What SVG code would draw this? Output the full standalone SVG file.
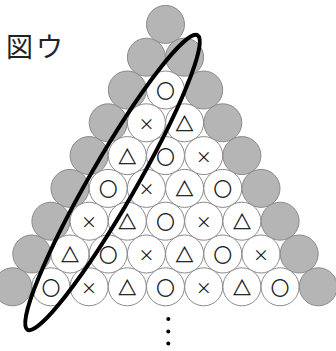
<svg xmlns="http://www.w3.org/2000/svg" width="336" height="351" viewBox="0 0 336 351">
<style>
.g{fill:#b5b5b5;stroke:#8a8a8a;stroke-width:1}
.w{fill:#ffffff;stroke:#8a8a8a;stroke-width:1}
.s{font-family:"Noto Sans CJK JP","DejaVu Sans",sans-serif;font-size:16px;fill:#111;text-anchor:middle;dominant-baseline:central}
.o{font-size:18px;stroke:#111;stroke-width:0.5}
.t{font-size:18px;stroke:#111;stroke-width:0.4}
.x{font-size:16px}
.title{font-family:"Noto Sans CJK JP",sans-serif;font-size:27px;fill:#222;letter-spacing:3px}
</style>
<rect width="336" height="351" fill="#ffffff"/>
<text class="title" x="6" y="57">図ウ</text>
<g id="nodes">
<g id="n0-0"><circle class="g" cx="165.5" cy="24.4" r="19"/></g>
<g id="n1-0"><circle class="g" cx="146.4" cy="57.2" r="19"/></g>
<g id="n1-1"><circle class="g" cx="184.6" cy="57.2" r="19"/></g>
<g id="n2-0"><circle class="g" cx="127.3" cy="90" r="19"/></g>
<g id="n2-1"><circle class="w" cx="165.5" cy="90" r="19"/><text class="s o" x="165.5" y="90">○</text></g>
<g id="n2-2"><circle class="g" cx="203.7" cy="90" r="19"/></g>
<g id="n3-0"><circle class="g" cx="108.2" cy="122.8" r="19"/></g>
<g id="n3-1"><circle class="w" cx="146.4" cy="122.8" r="19"/><text class="s x" x="146.4" y="122.8">×</text></g>
<g id="n3-2"><circle class="w" cx="184.6" cy="122.8" r="19"/><text class="s t" x="184.6" y="122.8">△</text></g>
<g id="n3-3"><circle class="g" cx="222.8" cy="122.8" r="19"/></g>
<g id="n4-0"><circle class="g" cx="89.1" cy="155.6" r="19"/></g>
<g id="n4-1"><circle class="w" cx="127.3" cy="155.6" r="19"/><text class="s t" x="127.3" y="155.6">△</text></g>
<g id="n4-2"><circle class="w" cx="165.5" cy="155.6" r="19"/><text class="s o" x="165.5" y="155.6">○</text></g>
<g id="n4-3"><circle class="w" cx="203.7" cy="155.6" r="19"/><text class="s x" x="203.7" y="155.6">×</text></g>
<g id="n4-4"><circle class="g" cx="241.9" cy="155.6" r="19"/></g>
<g id="n5-0"><circle class="g" cx="70" cy="188.4" r="19"/></g>
<g id="n5-1"><circle class="w" cx="108.2" cy="188.4" r="19"/><text class="s o" x="108.2" y="188.4">○</text></g>
<g id="n5-2"><circle class="w" cx="146.4" cy="188.4" r="19"/><text class="s x" x="146.4" y="188.4">×</text></g>
<g id="n5-3"><circle class="w" cx="184.6" cy="188.4" r="19"/><text class="s t" x="184.6" y="188.4">△</text></g>
<g id="n5-4"><circle class="w" cx="222.8" cy="188.4" r="19"/><text class="s o" x="222.8" y="188.4">○</text></g>
<g id="n5-5"><circle class="g" cx="261" cy="188.4" r="19"/></g>
<g id="n6-0"><circle class="g" cx="50.9" cy="221.2" r="19"/></g>
<g id="n6-1"><circle class="w" cx="89.1" cy="221.2" r="19"/><text class="s x" x="89.1" y="221.2">×</text></g>
<g id="n6-2"><circle class="w" cx="127.3" cy="221.2" r="19"/><text class="s t" x="127.3" y="221.2">△</text></g>
<g id="n6-3"><circle class="w" cx="165.5" cy="221.2" r="19"/><text class="s o" x="165.5" y="221.2">○</text></g>
<g id="n6-4"><circle class="w" cx="203.7" cy="221.2" r="19"/><text class="s x" x="203.7" y="221.2">×</text></g>
<g id="n6-5"><circle class="w" cx="241.9" cy="221.2" r="19"/><text class="s t" x="241.9" y="221.2">△</text></g>
<g id="n6-6"><circle class="g" cx="280.1" cy="221.2" r="19"/></g>
<g id="n7-0"><circle class="g" cx="31.8" cy="254" r="19"/></g>
<g id="n7-1"><circle class="w" cx="70" cy="254" r="19"/><text class="s t" x="70" y="254">△</text></g>
<g id="n7-2"><circle class="w" cx="108.2" cy="254" r="19"/><text class="s o" x="108.2" y="254">○</text></g>
<g id="n7-3"><circle class="w" cx="146.4" cy="254" r="19"/><text class="s x" x="146.4" y="254">×</text></g>
<g id="n7-4"><circle class="w" cx="184.6" cy="254" r="19"/><text class="s t" x="184.6" y="254">△</text></g>
<g id="n7-5"><circle class="w" cx="222.8" cy="254" r="19"/><text class="s o" x="222.8" y="254">○</text></g>
<g id="n7-6"><circle class="w" cx="261" cy="254" r="19"/><text class="s x" x="261" y="254">×</text></g>
<g id="n7-7"><circle class="g" cx="299.2" cy="254" r="19"/></g>
<g id="n8-0"><circle class="g" cx="12.7" cy="286.8" r="19"/></g>
<g id="n8-1"><circle class="w" cx="50.9" cy="286.8" r="19"/><text class="s o" x="50.9" y="286.8">○</text></g>
<g id="n8-2"><circle class="w" cx="89.1" cy="286.8" r="19"/><text class="s x" x="89.1" y="286.8">×</text></g>
<g id="n8-3"><circle class="w" cx="127.3" cy="286.8" r="19"/><text class="s t" x="127.3" y="286.8">△</text></g>
<g id="n8-4"><circle class="w" cx="165.5" cy="286.8" r="19"/><text class="s o" x="165.5" y="286.8">○</text></g>
<g id="n8-5"><circle class="w" cx="203.7" cy="286.8" r="19"/><text class="s x" x="203.7" y="286.8">×</text></g>
<g id="n8-6"><circle class="w" cx="241.9" cy="286.8" r="19"/><text class="s t" x="241.9" y="286.8">△</text></g>
<g id="n8-7"><circle class="w" cx="280.1" cy="286.8" r="19"/><text class="s o" x="280.1" y="286.8">○</text></g>
<g id="n8-8"><circle class="g" cx="318.3" cy="286.8" r="19"/></g>
</g>
<g id="connectors">
<ellipse cx="112.5" cy="182.5" rx="170" ry="23" fill="none" stroke="#000" stroke-width="4" transform="rotate(-60 112.5 182.5)"/>
</g>
<g id="dots" fill="#000">
<circle cx="168.3" cy="319" r="2"/>
<circle cx="168.3" cy="331.5" r="2"/>
<circle cx="168.3" cy="343.5" r="2"/>
</g>
</svg>
